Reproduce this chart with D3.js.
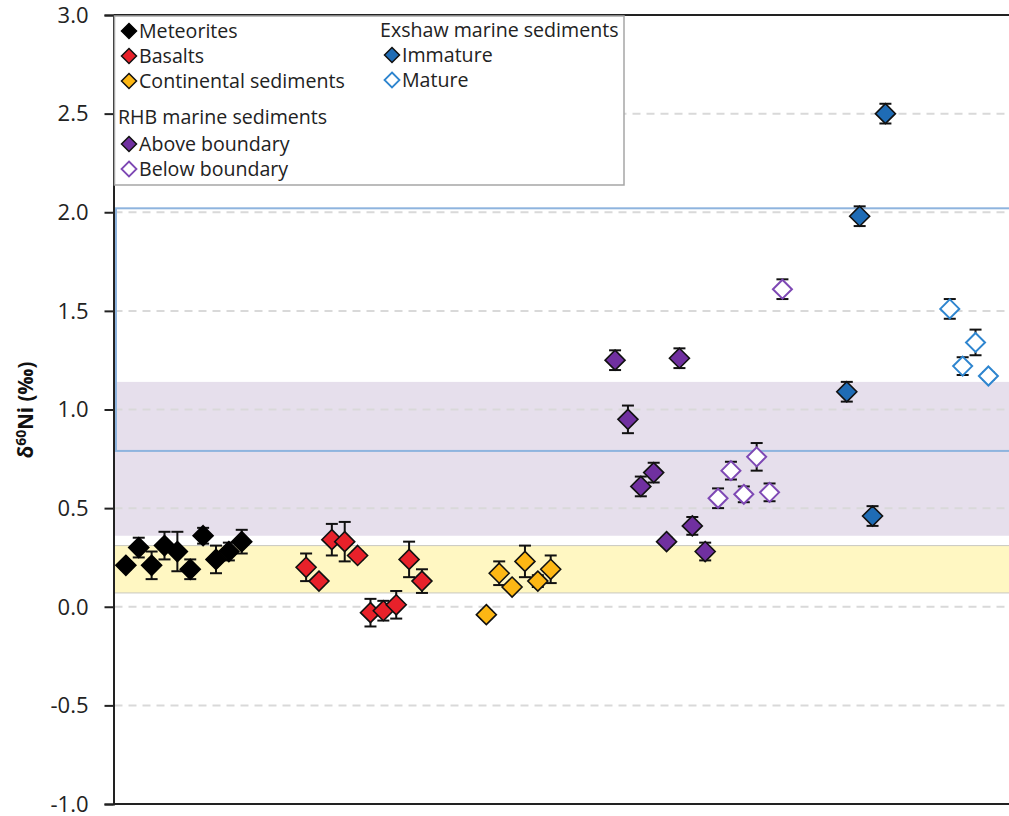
<!DOCTYPE html>
<html><head><meta charset="utf-8">
<script src="https://cdn.jsdelivr.net/npm/d3@7"></script>
<style>
html,body{margin:0;padding:0;background:#fff;}
svg{display:block;font-family:"Open Sans",sans-serif;}
</style></head>
<body>
<svg id="chart" width="1009" height="816"></svg>
<script>
// ---- data (sample order along x, δ60Ni value, 2SD error) ----
const meteoriteOrder = [0,1,2,3,4,5,6,7,8,9];
const meteoriteValues = [0.21,0.30,0.21,0.31,0.28,0.19,0.36,0.24,0.28,0.33];
const meteoriteErrors = [0.02,0.05,0.07,0.07,0.10,0.05,0.04,0.07,0.045,0.06];

const basaltOrder = [14,15,16,17,18,19,20,21,22,23];
const basaltValues = [0.20,0.13,0.34,0.33,0.26,-0.03,-0.02,0.01,0.24,0.13];
const basaltErrors = [0.07,0.02,0.08,0.10,0.02,0.07,0.05,0.07,0.09,0.06];

const continentalOrder = [28,29,30,31,32,33];
const continentalValues = [-0.04,0.17,0.10,0.23,0.13,0.19];
const continentalErrors = [0.02,0.06,0.02,0.08,0.03,0.07];

const aboveOrder = [38,39,40,41,42,43,44,45];
const aboveValues = [1.25,0.95,0.61,0.68,0.33,1.26,0.41,0.28];
const aboveErrors = [0.05,0.07,0.05,0.05,0.02,0.05,0.045,0.045];

const belowOrder = [46,47,48,49,50,51];
const belowValues = [0.55,0.69,0.57,0.76,0.58,1.61];
const belowErrors = [0.05,0.045,0.04,0.07,0.045,0.05];

const immatureOrder = [56,57,58,59];
const immatureValues = [1.09,1.98,0.46,2.50];
const immatureErrors = [0.05,0.05,0.05,0.05];

const matureOrder = [64,65,66,67];
const matureValues = [1.51,1.22,1.34,1.17];
const matureErrors = [0.05,0.045,0.065,0.02];

const yTicks = [-1.0,-0.5,0.0,0.5,1.0,1.5,2.0,2.5,3.0];
const yTickLabels = ["-1.0","-0.5","0.0","0.5","1.0","1.5","2.0","2.5","3.0"];
const yellowBand = [0.07,0.31];
const purpleBand = [0.36,1.14];
const blueBox = [0.79,2.02];

const series = [
  {name:"Meteorites", order:meteoriteOrder, values:meteoriteValues, errors:meteoriteErrors, fill:"#000000", stroke:"#000000"},
  {name:"Basalts", order:basaltOrder, values:basaltValues, errors:basaltErrors, fill:"#e8212a", stroke:"#111"},
  {name:"Continental sediments", order:continentalOrder, values:continentalValues, errors:continentalErrors, fill:"#fdb714", stroke:"#111"},
  {name:"Above boundary", order:aboveOrder, values:aboveValues, errors:aboveErrors, fill:"#7030a0", stroke:"#111"},
  {name:"Below boundary", order:belowOrder, values:belowValues, errors:belowErrors, fill:"#ffffff", stroke:"#7e48b4", open:true},
  {name:"Immature", order:immatureOrder, values:immatureValues, errors:immatureErrors, fill:"#1f6cb5", stroke:"#111"},
  {name:"Mature", order:matureOrder, values:matureValues, errors:matureErrors, fill:"#ffffff", stroke:"#2e85cf", open:true}
];

(function(){
// ---- layout ----
const svg = d3.select("#chart");
const pLeft = 113.5, pRight = 1009, pTop = 15, pBottom = 804;
const x = d3.scaleLinear().domain([-1, 68.6]).range([113, 1009]);
const y = d3.scaleLinear().domain([-1, 3]).range([pBottom, pTop]);

// bands
svg.append("rect").attr("x", pLeft).attr("width", 1100 - pLeft)
  .attr("y", y(purpleBand[1])).attr("height", y(purpleBand[0]) - y(purpleBand[1]))
  .attr("fill", "#e6dfec");
svg.append("rect").attr("x", pLeft).attr("width", 1100 - pLeft)
  .attr("y", y(yellowBand[1])).attr("height", y(yellowBand[0]) - y(yellowBand[1]))
  .attr("fill", "#fff7c2").attr("stroke", "#c8c8c0").attr("stroke-width", 1);

// grid
svg.append("g").selectAll("line").data(yTicks.filter(t => t > -1 && t < 3)).join("line")
  .attr("x1", pLeft + 1).attr("x2", pRight).attr("y1", d => y(d)).attr("y2", d => y(d))
  .attr("stroke", "#d9d9d9").attr("stroke-width", 2).attr("stroke-dasharray", "8,6");

// blue box
svg.append("rect").attr("x", 116).attr("width", 1100 - 116)
  .attr("y", y(blueBox[1])).attr("height", y(blueBox[0]) - y(blueBox[1]))
  .attr("fill", "none").attr("stroke", "#8eb4de").attr("stroke-width", 2);

// frame
svg.append("line").attr("x1", pLeft).attr("x2", pRight).attr("y1", pTop).attr("y2", pTop).attr("stroke", "#222").attr("stroke-width", 2);
svg.append("line").attr("x1", pLeft).attr("x2", pRight).attr("y1", pBottom).attr("y2", pBottom).attr("stroke", "#222").attr("stroke-width", 2);

// y axis
const yAxis = d3.axisLeft(y).tickValues(yTicks).tickFormat((d, i) => yTickLabels[i]).tickSize(9).tickPadding(16);
const ga = svg.append("g").attr("transform", `translate(${pLeft},0)`).call(yAxis);
ga.select(".domain").attr("stroke", "#222").attr("stroke-width", 2);
ga.selectAll(".tick line").attr("stroke", "#222").attr("stroke-width", 2);
ga.selectAll(".tick text").attr("font-size", 22).attr("fill", "#222")
  .attr("font-family", "Open Sans, sans-serif").attr("dy", "0.33em");

// y title
const yt = svg.append("text").attr("transform", `translate(33,${410}) rotate(-90)`)
  .attr("text-anchor", "middle").attr("font-size", 20.5).attr("font-weight", "bold").attr("fill", "#111");
yt.append("tspan").text("δ");
yt.append("tspan").text("60").attr("font-size", 14).attr("dy", -7);
yt.append("tspan").text("Ni (‰)").attr("dy", 7);

// legend box
svg.append("rect").attr("x", pLeft + 1).attr("y", pTop + 1).attr("width", 624 - pLeft - 1).attr("height", 185 - pTop - 1)
  .attr("fill", "#fff").attr("stroke", "#a6a6a6").attr("stroke-width", 1.5);

const diamond = (r) => `M0,${-r}L${r},0L0,${r}L${-r},0Z`;

// error bars and points
series.forEach(s => {
  const pts = s.order.map((o, i) => ({o, v: s.values[i], e: s.errors[i]}));
  const g = svg.append("g");
  const eb = g.selectAll("g.eb").data(pts).join("g").attr("class", "eb");
  eb.append("line").attr("x1", d => x(d.o)).attr("x2", d => x(d.o))
    .attr("y1", d => y(d.v + d.e)).attr("y2", d => y(d.v - d.e)).attr("stroke", "#111").attr("stroke-width", 2);
  [1, -1].forEach(sg => {
    eb.append("line").attr("x1", d => x(d.o) - 6).attr("x2", d => x(d.o) + 6)
      .attr("y1", d => y(d.v + sg * d.e)).attr("y2", d => y(d.v + sg * d.e)).attr("stroke", "#111").attr("stroke-width", 2);
  });
  g.selectAll("path").data(pts).join("path")
    .attr("transform", d => `translate(${x(d.o)},${y(d.v)})`)
    .attr("d", diamond(s.open ? 9.5 : 10))
    .attr("fill", s.fill).attr("stroke", s.stroke).attr("stroke-width", s.open ? 2 : 1.6)
    .attr("stroke-linejoin", "miter");
});

// legend entries
const legendItems = [
  {label: "Meteorites", s: 0, mx: 129, ty: 31},
  {label: "Basalts", s: 1, mx: 129, ty: 56},
  {label: "Continental sediments", s: 2, mx: 129, ty: 81},
  {label: "RHB marine sediments", s: -1, mx: 118, ty: 117},
  {label: "Above boundary", s: 3, mx: 129, ty: 144},
  {label: "Below boundary", s: 4, mx: 129, ty: 169},
  {label: "Exshaw marine sediments", s: -1, mx: 380, ty: 30},
  {label: "Immature", s: 5, mx: 392, ty: 55},
  {label: "Mature", s: 6, mx: 392, ty: 80}
];
const lg = svg.append("g");
legendItems.forEach(it => {
  if (it.s >= 0) {
    const s = series[it.s];
    lg.append("path").attr("transform", `translate(${it.mx},${it.ty})`).attr("d", diamond(7.5))
      .attr("fill", s.fill).attr("stroke", s.stroke).attr("stroke-width", s.open ? 1.8 : 1.5);
  }
  lg.append("text").attr("x", it.s >= 0 ? it.mx + 10 : it.mx).attr("y", it.ty).attr("dy", "0.35em")
    .attr("font-size", 19.6).attr("fill", "#222").text(it.label);
});
})();
</script>
</body></html>
